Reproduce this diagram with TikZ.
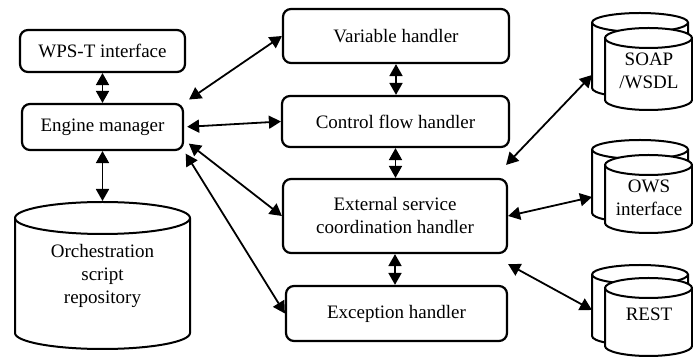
\documentclass[tikz,border=0pt]{standalone}
\usepackage{fontspec}
\setmainfont{Liberation Serif}
\usetikzlibrary{arrows.meta}
\newcommand{\drum}[5]{% left, width, top, bottom, y radius
  \filldraw[fill=white, line width=2pt] (#1,#3) -- (#1,#4)
    arc[start angle=180, end angle=360, x radius={(#2)*0.5pt}, y radius={(#5)*1pt}]
    -- (#1+#2,#3)
    arc[start angle=0, end angle=180, x radius={(#2)*0.5pt}, y radius={(#5)*1pt}] -- cycle;
  \draw[line width=2pt] (#1,#3)
    arc[start angle=180, end angle=360, x radius={(#2)*0.5pt}, y radius={(#5)*1pt}];
}

\begin{document}
\begin{tikzpicture}[x=1pt, y=1pt,
  every node/.style={font=\fontsize{19}{23}\selectfont, align=center},
  box/.style={draw, rounded corners=8pt, line width=2.2pt, inner sep=0pt},
  link/.style={{Triangle[length=12pt,width=13pt]}-{Triangle[length=12pt,width=13pt]}, line width=1.8pt}]
  \useasboundingbox (0,0) rectangle (693,358);

  % left column
  \node[box, minimum width=165, minimum height=42] (wps) at (102.5,307) {WPS-T interface};
  \node[box, minimum width=161, minimum height=46] (engine) at (102.5,231) {Engine manager};

  \drum{15}{175}{140}{25}{16}
  \node (orch) at (102.5,82) {Orchestration\\script\\repository};
  \coordinate (orch-top) at (102.5,157);

  % handlers
  \node[box, minimum width=226, minimum height=54] (variable) at (396,322) {Variable handler};
  \node[box, minimum width=227, minimum height=51] (control) at (395.5,236.5) {Control flow handler};
  \node[box, minimum width=224, minimum height=74] (external) at (395,142) {External service\\coordination handler};
  \node[box, minimum width=221, minimum height=55] (exception) at (396.5,44.5) {Exception handler};

  % services
  \drum{592}{96}{335.5}{270}{9.5}
  \drum{605}{87}{320}{258}{10}
  \node (soap) at (649,287) {SOAP\\/WSDL};
  \coordinate (soap-in) at (592,283);

  \drum{592}{96}{208.5}{145}{9.5}
  \drum{605}{87}{193}{135}{10}
  \node (ows) at (649,160) {OWS\\interface};
  \coordinate (ows-in) at (592,161);

  \drum{592}{96}{83.5}{22}{9.5}
  \drum{605}{87}{70}{12}{10}
  \node (rest) at (649,44) {REST};
  \coordinate (rest-in) at (592,48);

  % connectors
  \draw[link] (wps.south) -- (engine.north);
  \draw[link] (engine.south) -- (orch-top);
  \draw[link, shorten <=6pt] (engine.north east) -- (variable.west);
  \draw[link, shorten <=3pt] (engine.east) -- (control.west);
  \draw[link, shorten <=6pt] (engine.-9) -- (external.west);
  \draw[link, shorten <=3pt] (engine.south east) -- (exception.west);

  \draw[link] (variable.south) -- (variable.south |- control.north);
  \draw[link] (control.south) -- (control.south |- external.north);
  \draw[link] (external.south) -- (external.south |- exception.north);

  \draw[link] ([xshift=-2pt,yshift=13pt]external.north east) -- (soap-in);
  \draw[link] (external.east) -- (ows-in);
  \draw[link] ([yshift=-10pt]external.south east) -- (rest-in);
\end{tikzpicture}
\end{document}
